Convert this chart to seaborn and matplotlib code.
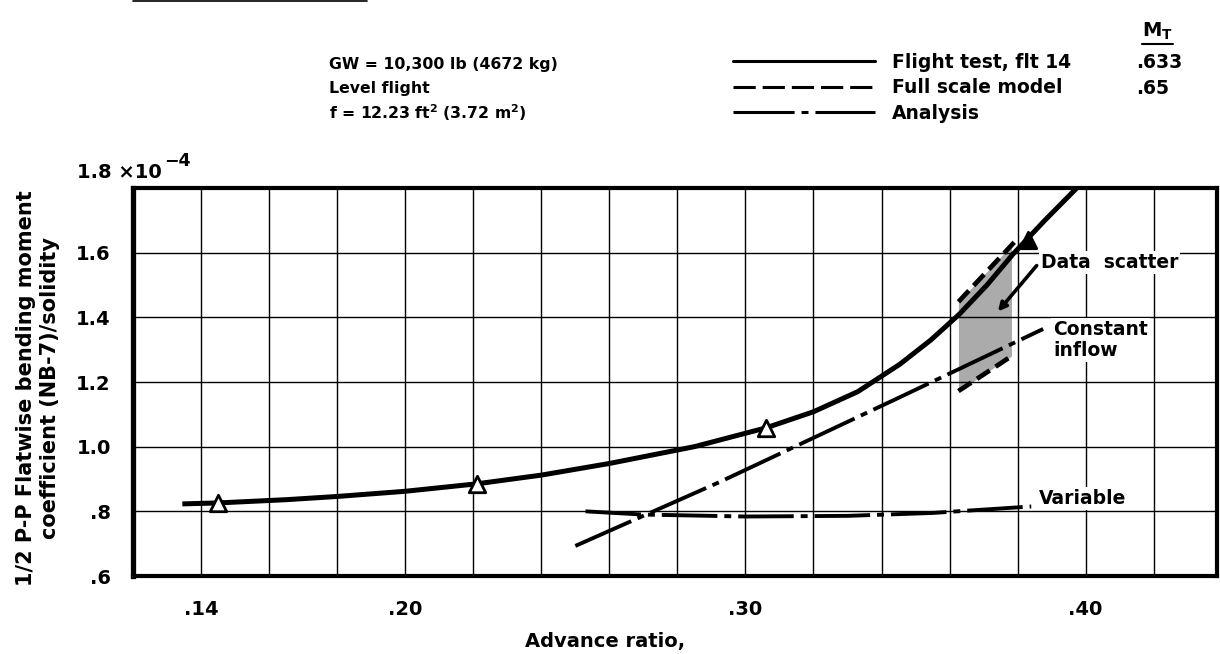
import numpy as np
import matplotlib
matplotlib.use("Agg")
import matplotlib.pyplot as plt
from matplotlib.lines import Line2D
import seaborn as sns

# ---- data (advance ratio vs. 1/2 P-P flatwise bending moment coefficient / solidity, x1e-4)
flight_mu = [0.1345, 0.145, 0.165, 0.180, 0.200, 0.221, 0.240, 0.260, 0.285, 0.306,
             0.320, 0.333, 0.3454, 0.3545, 0.3629, 0.371, 0.3786, 0.388, 0.3974]
flight_coef = [0.823, 0.826, 0.836, 0.846, 0.862, 0.885, 0.912, 0.948, 1.000, 1.058,
               1.108, 1.170, 1.255, 1.330, 1.410, 1.500, 1.595, 1.700, 1.800]

test_mu = [0.145, 0.221, 0.306]
test_coef = [0.826, 0.886, 1.058]
last_test_mu = [0.383]
last_test_coef = [1.640]

model_upper_mu = [0.3626, 0.3790]
model_upper_coef = [1.448, 1.632]
model_lower_mu = [0.3626, 0.3782]
model_lower_coef = [1.172, 1.280]

const_inflow_mu = [0.250, 0.2925, 0.3454, 0.3875]
const_inflow_coef = [0.693, 0.891, 1.153, 1.364]

variable_mu = [0.253, 0.270, 0.300, 0.330, 0.355, 0.384]
variable_coef = [0.800, 0.790, 0.784, 0.786, 0.795, 0.815]

x_tick_values = [0.14, 0.20, 0.30, 0.40]
x_tick_labels = [".14", ".20", ".30", ".40"]
y_tick_values = [0.6, 0.8, 1.0, 1.2, 1.4, 1.6, 1.8]
y_tick_labels = [".6", ".8", "1.0", "1.2", "1.4", "1.6", ""]

legend_labels = ["Flight test, flt 14", "Full scale model", "Analysis"]
tip_mach = [".633", ".65"]

# ---- style
sns.set_theme(style="white")
plt.rcParams["font.family"] = ["DejaVu Sans"]
plt.rcParams["font.weight"] = "bold"
plt.rcParams["axes.labelweight"] = "bold"
plt.rcParams["text.color"] = "black"
plt.rcParams["axes.labelcolor"] = "black"
plt.rcParams["xtick.color"] = "black"
plt.rcParams["ytick.color"] = "black"
plt.rcParams["lines.scale_dashes"] = False
plt.rcParams["mathtext.fontset"] = "dejavusans"
plt.rcParams["mathtext.default"] = "bf"

W, H = 1220, 654
L, R, T, B = 133, 1217, 188, 576

fig = plt.figure(figsize=(W / 100, H / 100), dpi=100)
fig.patch.set_facecolor("white")
ax = fig.add_axes([L / W, 1 - B / H, (R - L) / W, (B - T) / H])
ax.set_facecolor("white")

# data scatter band
ax.fill_between(model_lower_mu, model_lower_coef,
                np.interp(model_lower_mu, model_upper_mu, model_upper_coef),
                color="#ababab", lw=0, zorder=0.3)

# curves
sns.lineplot(x=flight_mu, y=flight_coef, ax=ax, color="black", lw=3.6,
             sort=False, estimator=None, solid_capstyle="butt", zorder=3)
sns.lineplot(x=model_upper_mu, y=model_upper_coef, ax=ax, color="black", lw=3.4,
             sort=False, estimator=None, linestyle=(0, (11, 5)), zorder=3)
sns.lineplot(x=model_lower_mu, y=model_lower_coef, ax=ax, color="black", lw=3.4,
             sort=False, estimator=None, linestyle=(0, (11, 5)), zorder=3)
sns.lineplot(x=const_inflow_mu, y=const_inflow_coef, ax=ax, color="black", lw=2.8,
             sort=False, estimator=None, linestyle=(0, (44, 5, 5, 5)), zorder=3)
sns.lineplot(x=variable_mu, y=variable_coef, ax=ax, color="black", lw=2.8,
             sort=False, estimator=None, linestyle=(0, (40, 5, 5, 5)), zorder=3)

# flight test points
sns.scatterplot(x=test_mu, y=test_coef, ax=ax, marker="^", s=140,
                color="white", edgecolor="black", linewidth=2.0, zorder=4)
sns.scatterplot(x=last_test_mu, y=last_test_coef, ax=ax, marker="^", s=140,
                color="black", edgecolor="black", linewidth=2.0, zorder=4)

# axes, grid and ticks
ax.set_xlim(0.12, 0.4386)
ax.set_ylim(0.6, 1.8)
ax.set_xticks(np.arange(0.14, 0.425, 0.02), minor=True)
ax.set_xticks(x_tick_values)
ax.set_xticklabels(x_tick_labels)
ax.set_yticks(y_tick_values)
ax.set_yticklabels(y_tick_labels)
ax.set_axisbelow(True)
ax.grid(True, which="both", color="black", lw=1.0)
ax.tick_params(axis="both", which="both", length=0, labelsize=14, colors="black")
ax.tick_params(axis="x", pad=17)
ax.tick_params(axis="y", pad=16)
for side in ["top", "right", "bottom", "left"]:
    ax.spines[side].set_visible(True)
    ax.spines[side].set_color("black")
    ax.spines[side].set_linewidth(3.0)
ax.spines["left"].set_linewidth(3.8)
ax.set_xlabel("")
ax.set_ylabel("")

# curve annotations
box = dict(facecolor="white", edgecolor="none", pad=1.5)
ax.text(0.3868, 1.570, "Data  scatter", fontsize=13.5, ha="left", va="center", bbox=box, zorder=5)
ax.annotate("", xy=(0.3742, 1.418), xytext=(0.3856, 1.560),
            arrowprops=dict(arrowstyle="-|>", lw=2.6, color="black", mutation_scale=12,
                            shrinkA=0, shrinkB=0), zorder=5)
ax.text(0.3905, 1.330, "Constant\ninflow", fontsize=13.5, ha="left", va="center",
        linespacing=1.15, bbox=box, zorder=5)
ax.text(0.3862, 0.840, "Variable", fontsize=13.5, ha="left", va="center", bbox=box, zorder=5)

# top tick label with scale factor
fig.text(77 / W, 1 - 172 / H, "1.8 ×10", fontsize=14, ha="left", va="center")
fig.text(164 / W, 1 - 161 / H, "−4", fontsize=12.5, ha="left", va="center")

# axis titles
fig.text(38 / W, 1 - 388 / H, "1/2 P-P Flatwise bending moment\ncoefficient (NB-7)/solidity",
         fontsize=15, rotation=90, ha="center", va="center", multialignment="center",
         linespacing=1.25)
fig.text(605 / W, 1 - 641 / H, "Advance ratio,", fontsize=14, ha="center", va="center")

# test conditions
fig.text(329 / W, 1 - 64 / H, "GW = 10,300 lb (4672 kg)", fontsize=11.3, ha="left", va="center")
fig.text(329 / W, 1 - 88 / H, "Level flight", fontsize=11.3, ha="left", va="center")
fig.text(329 / W, 1 - 113 / H, "f = 12.23 ft$^2$ (3.72 m$^2$)", fontsize=11.3, ha="left", va="center")

# legend with tip Mach number column
handles = [
    Line2D([], [], color="black", lw=2.2),
    Line2D([], [], color="black", lw=2.2, linestyle=(0, (16, 5))),
    Line2D([], [], color="black", lw=2.2, linestyle=(0, (44, 5, 5, 5))),
]
fig.legend(handles, legend_labels, loc="upper left", bbox_to_anchor=(733 / W, 1 - 53 / H),
           frameon=False, fontsize=13.5, handlelength=142 / 18.75, handletextpad=17 / 18.75,
           labelspacing=0.34, borderpad=0, borderaxespad=0)
fig.text(1157 / W, 1 - 31 / H, r"$\mathbf{M}_\mathbf{T}$", fontsize=14, ha="center", va="center")
fig.add_artist(Line2D([1142 / W, 1173 / W], [1 - 44 / H] * 2, color="black", lw=1.5))
for i, mach in enumerate(tip_mach):
    fig.text(1136 / W, 1 - (62 + 26 * i) / H, mach, fontsize=13.5, ha="left", va="center")

# clipped underline of the figure heading
fig.add_artist(Line2D([133 / W, 367 / W], [1 - 1 / H] * 2, color="black", lw=1.2))

fig.savefig("out.png", dpi=100, facecolor="white")
